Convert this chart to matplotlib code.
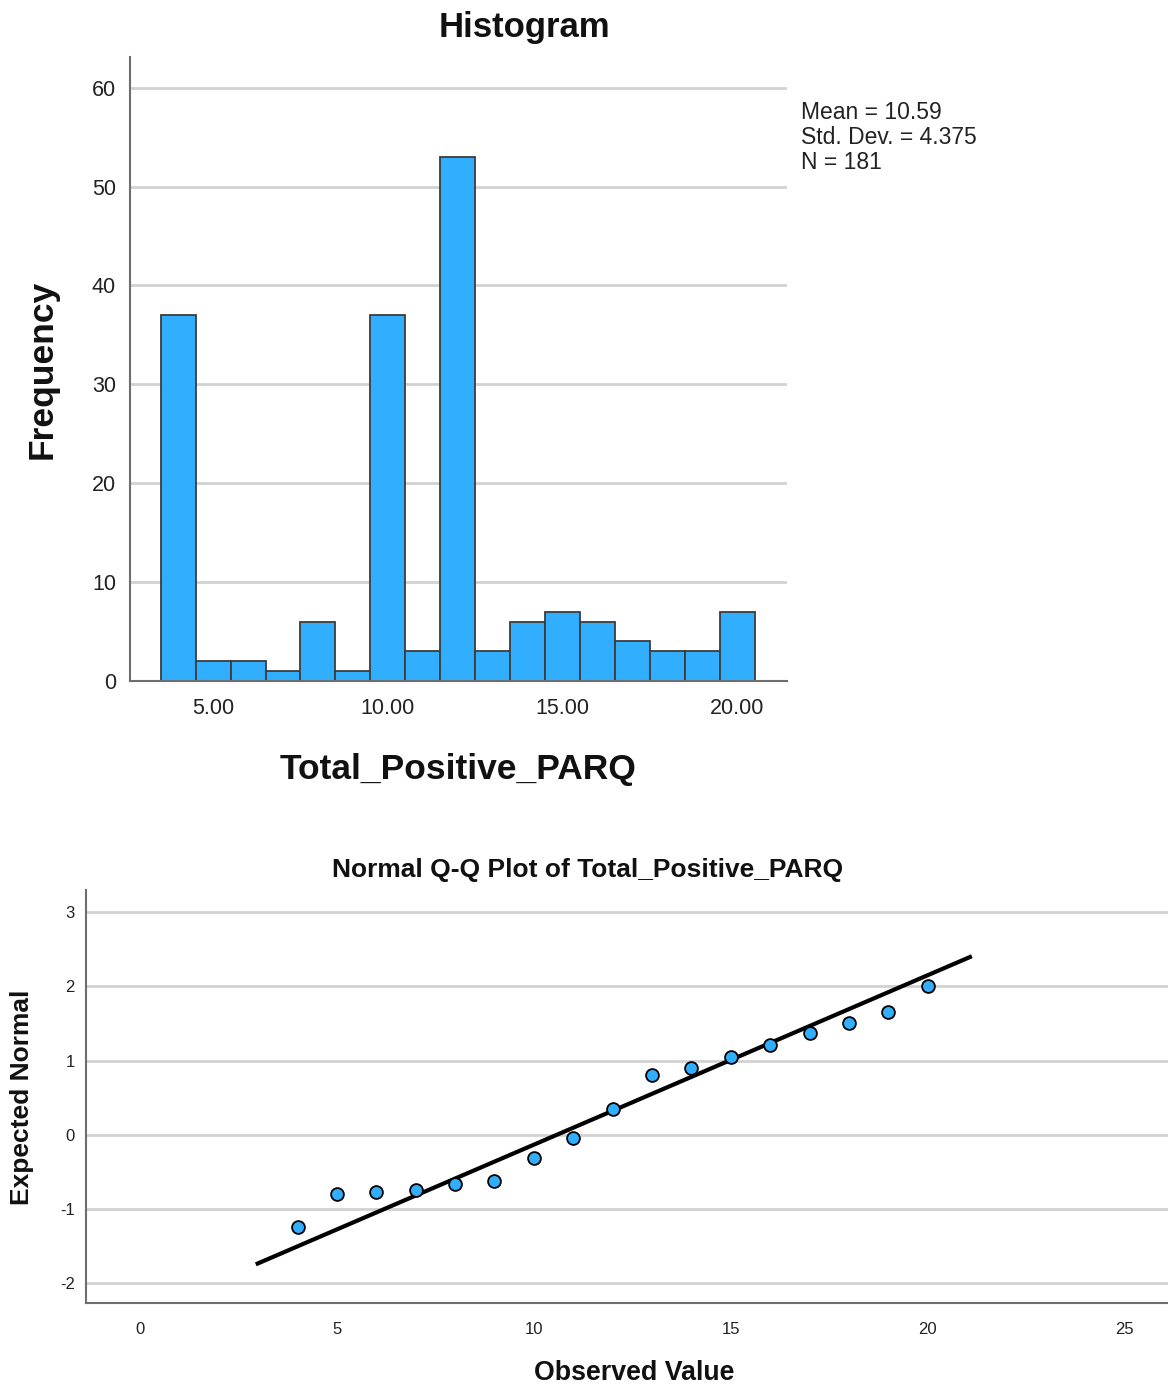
import numpy as np
import matplotlib
matplotlib.use('Agg')
import matplotlib.pyplot as plt

plt.rcParams['font.family'] = ['Liberation Sans', 'DejaVu Sans']
plt.rcParams['axes.unicode_minus'] = False

# histogram data (Total_Positive_PARQ, bins of width 1)
hist_values = [4, 5, 6, 7, 8, 9, 10, 11, 12, 13, 14, 15, 16, 17, 18, 19, 20]
hist_counts = [37, 2, 2, 1, 6, 1, 37, 3, 53, 3, 6, 7, 6, 4, 3, 3, 7]
hist_xticks = [5, 10, 15, 20]
hist_yticks = [0, 10, 20, 30, 40, 50, 60]
stats_mean = 10.59
stats_sd = 4.375
stats_n = 181

# Q-Q plot data
qq_observed = [4, 5, 6, 7, 8, 9, 10, 11, 12, 13, 14, 15, 16, 17, 18, 19, 20]
qq_expected = [-1.25, -0.80, -0.77, -0.74, -0.67, -0.62, -0.32, -0.04, 0.35,
               0.81, 0.90, 1.05, 1.21, 1.37, 1.51, 1.66, 2.01]
qq_line_x = [2.94, 21.12]
qq_xticks = [0, 5, 10, 15, 20, 25]
qq_yticks = [-2, -1, 0, 1, 2, 3]

bar_color = '#31aefe'
grid_color = '#d2d2d2'
spine_color = '#6e6e6e'
W, H = 1168, 1387

fig = plt.figure(figsize=(W / 100, H / 100), dpi=100)


def fx(px):
    return px / W


def fy(py):
    return 1 - py / H


# ---- histogram ----
ax1 = fig.add_axes([fx(130), fy(681), fx(787) - fx(130), fy(57) - fy(681)])
ax1.bar(hist_values, hist_counts, width=1.0, color=bar_color,
        edgecolor='#3c3c3c', linewidth=1.3, zorder=3)
ax1.set_xlim(2.62, 21.43)
ax1.set_ylim(0, 63.1)
ax1.set_xticks(hist_xticks)
ax1.set_xticklabels(['%.2f' % v for v in hist_xticks])
ax1.set_yticks(hist_yticks)
for y in hist_yticks[1:]:
    ax1.axhline(y, color=grid_color, lw=2, zorder=1)
ax1.tick_params(length=0, labelsize=15.5, colors='#222222')
ax1.tick_params(axis='x', pad=12)
ax1.tick_params(axis='y', pad=10)
for s in ['top', 'right']:
    ax1.spines[s].set_visible(False)
for s in ['left', 'bottom']:
    ax1.spines[s].set_color(spine_color)
    ax1.spines[s].set_linewidth(1.5)
    ax1.spines[s].set_zorder(4)

fig.text(fx(524), fy(28), 'Histogram', ha='center', va='center',
         fontsize=25, fontweight='bold', color='#111111')
fig.text(fx(42), fy(369), 'Frequency', ha='center', va='center',
         rotation=90, fontsize=25.5, fontweight='bold', color='#111111')
fig.text(fx(458), fy(770), 'Total_Positive_PARQ', ha='center', va='center',
         fontsize=25.5, fontweight='bold', color='#111111')
fig.text(fx(801), fy(101), 'Mean = %.2f\nStd. Dev. = %.3f\nN = %d'
         % (stats_mean, stats_sd, stats_n), ha='left', va='top',
         fontsize=16.5, linespacing=1.12, color='#222222')

# ---- Q-Q plot ----
ax2 = fig.add_axes([fx(86), fy(1303), 1 - fx(86), fy(890) - fy(1303)])
for y in qq_yticks:
    ax2.axhline(y, color=grid_color, lw=2, zorder=1)
line_x = np.array(qq_line_x)
ax2.plot(line_x, (line_x - stats_mean) / stats_sd, color='black', lw=3,
         zorder=3, solid_capstyle='butt')
ax2.scatter(qq_observed, qq_expected, s=85, color=bar_color,
            edgecolor='black', linewidth=1.3, zorder=4)
ax2.set_xlim(-1.37, 26.1)
ax2.set_ylim(-2.27, 3.30)
ax2.set_xticks(qq_xticks)
ax2.set_yticks(qq_yticks)
ax2.tick_params(length=0, labelsize=12, colors='#222222')
ax2.tick_params(axis='x', pad=14)
ax2.tick_params(axis='y', pad=8)
for s in ['top', 'right']:
    ax2.spines[s].set_visible(False)
for s in ['left', 'bottom']:
    ax2.spines[s].set_color(spine_color)
    ax2.spines[s].set_linewidth(1.5)

fig.text(fx(588), fy(870), 'Normal Q-Q Plot of Total_Positive_PARQ',
         ha='center', va='center', fontsize=19, fontweight='bold',
         color='#111111')
fig.text(fx(22), fy(1097), 'Expected Normal', ha='center', va='center',
         rotation=90, fontsize=19, fontweight='bold', color='#111111')
fig.text(fx(634), fy(1373), 'Observed Value', ha='center', va='center',
         fontsize=19.3, fontweight='bold', color='#111111')

fig.savefig('out.png', dpi=100)
